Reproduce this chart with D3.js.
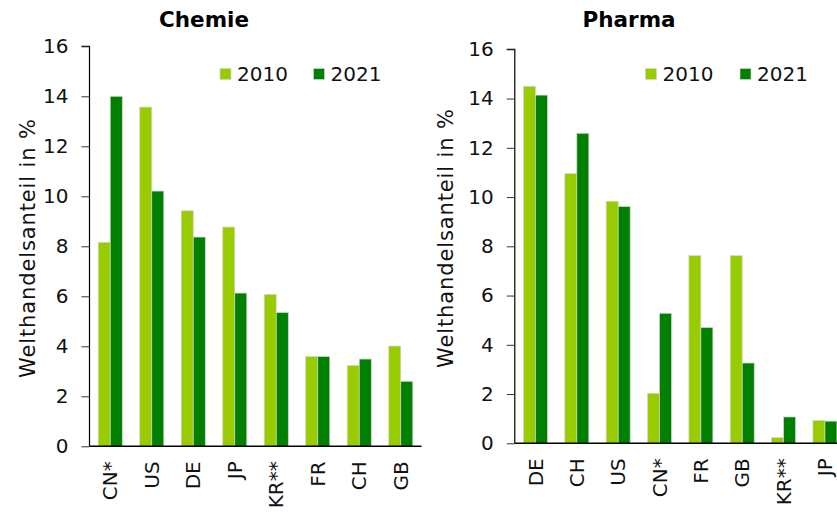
<!DOCTYPE html>
<html><head><meta charset="utf-8">
<script src="https://cdn.jsdelivr.net/npm/d3@7"></script>
<style>
body{margin:0;background:#fff;}
svg{display:block;font-family:"DejaVu Sans",Verdana,sans-serif;}
</style></head>
<body><svg id="c" width="837" height="514"></svg>
<script>
const seriesNames = ["2010", "2021"];
const colors = ["#99CC00", "#008000"];
const yTicks = [0, 2, 4, 6, 8, 10, 12, 14, 16];

const chemieCategories = ["CN*", "US", "DE", "JP", "KR**", "FR", "CH", "GB"];
const chemie2010 = [8.16, 13.57, 9.42, 8.77, 6.08, 3.59, 3.23, 4.01];
const chemie2021 = [14.0, 10.21, 8.37, 6.13, 5.35, 3.59, 3.49, 2.60];

const pharmaCategories = ["DE", "CH", "US", "CN*", "FR", "GB", "KR**", "JP"];
const pharma2010 = [14.5, 10.95, 9.83, 2.03, 7.62, 7.62, 0.23, 0.93];
const pharma2021 = [14.14, 12.59, 9.61, 5.28, 4.70, 3.26, 1.07, 0.90];

const svg = d3.select("#c");

function panel(cfg) {
  const g = svg.append("g");
  const x = d3.scaleBand().domain(cfg.cats).range([cfg.x0, cfg.x1])
    .paddingInner(0.42).paddingOuter(0.21);
  const sub = d3.scaleBand().domain(seriesNames).range([0, x.bandwidth()]);
  const y = d3.scaleLinear().domain([0, 16]).range([cfg.yb, cfg.yt]);

  const vals = [cfg.v1, cfg.v2];
  seriesNames.forEach((s, si) => {
    g.append("g").selectAll("rect").data(cfg.cats).join("rect")
      .attr("x", (d) => x(d) + sub(s))
      .attr("width", sub.bandwidth())
      .attr("y", (d, i) => y(vals[si][i]))
      .attr("height", (d, i) => y(0) - y(vals[si][i]))
      .attr("fill", colors[si])
      .attr("stroke", "#d4d4d4")
      .attr("stroke-width", 0.7);
  });

  const ya = g.append("g").attr("transform", `translate(${cfg.x0},0)`)
    .call(d3.axisLeft(y).tickValues(yTicks).tickSize(8).tickPadding(13).tickFormat(d3.format("d")));
  ya.select(".domain").attr("stroke", "#000").attr("stroke-width", 1.2)
    .attr("d", `M-8,${cfg.yt}H0V${cfg.yb}`);
  ya.selectAll(".tick line").attr("stroke", "#333");
  ya.selectAll("text").attr("font-size", 20).attr("fill", "#111")
    .attr("font-family", "DejaVu Sans, Verdana, sans-serif");

  const xa = g.append("g").attr("transform", `translate(0,${cfg.yb})`)
    .call(d3.axisBottom(x).tickSize(0).tickPadding(0));
  xa.select(".domain").attr("stroke", "#000").attr("stroke-width", 1.5)
    .attr("d", `M${cfg.x0},0H${cfg.x1}`);
  xa.selectAll("text")
    .attr("font-size", 20).attr("fill", "#111")
    .attr("font-family", "DejaVu Sans, Verdana, sans-serif")
    .attr("transform", "rotate(-90)")
    .attr("text-anchor", "end")
    .attr("x", -15).attr("y", 0).attr("dy", "0.36em");

  g.append("text").attr("x", cfg.tx).attr("y", 26.5).attr("text-anchor", "middle")
    .attr("font-size", 21.5).attr("font-weight", "bold").attr("fill", "#000").text(cfg.title);

  g.append("text")
    .attr("transform", `translate(${cfg.lx},${cfg.ly}) rotate(-90)`)
    .attr("text-anchor", "middle").attr("font-size", 21).attr("fill", "#111")
    .attr("textLength", 259).attr("lengthAdjust", "spacing")
    .text("Welthandelsanteil in %");

  seriesNames.forEach((s, si) => {
    g.append("rect").attr("x", cfg.legX[si]).attr("y", 68.5).attr("width", 11).attr("height", 11)
      .attr("fill", colors[si]).attr("stroke", "#d4d4d4").attr("stroke-width", 0.7);
    g.append("text").attr("x", cfg.legX[si] + 17).attr("y", 81).attr("font-size", 20)
      .attr("fill", "#111").text(s);
  });
}

panel({title: "Chemie", cats: chemieCategories, v1: chemie2010, v2: chemie2021,
  x0: 89.5, x1: 421.5, yt: 46.3, yb: 446.3, tx: 204, lx: 35, ly: 248.5, legX: [220, 313.5]});
panel({title: "Pharma", cats: pharmaCategories, v1: pharma2010, v2: pharma2021,
  x0: 514.8, x1: 845.6, yt: 49.3, yb: 443.3, tx: 629, lx: 453, ly: 238.5, legX: [645.5, 740]});
</script></body></html>
